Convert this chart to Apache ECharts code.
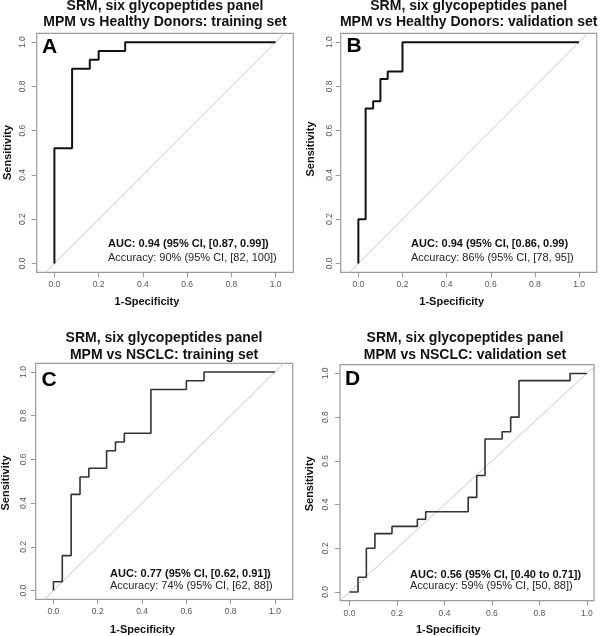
<!DOCTYPE html>
<html><head><meta charset="utf-8">
<script src="https://cdn.jsdelivr.net/npm/echarts@6/dist/echarts.min.js"></script>
<style>html,body{margin:0;padding:0;background:#fff}#c{width:600px;height:636px}</style>
</head><body><div id="c"></div>
<script>
// ---- data (1-specificity, sensitivity) ----
const fprA = [0, 0, 0.08, 0.08, 0.16, 0.16, 0.20, 0.20, 0.32, 0.32, 1];
const tprA = [0, 0.52, 0.52, 0.88, 0.88, 0.92, 0.92, 0.96, 0.96, 1, 1];
const fprB = [0, 0, 0.033, 0.033, 0.067, 0.067, 0.1, 0.1, 0.133, 0.133, 0.2, 0.2, 1];
const tprB = [0, 0.2, 0.2, 0.7, 0.7, 0.733, 0.733, 0.833, 0.833, 0.867, 0.867, 1, 1];
const fprC = [0, 0, 0.04, 0.04, 0.08, 0.08, 0.12, 0.12, 0.16, 0.16, 0.24, 0.24, 0.28, 0.28, 0.32, 0.32, 0.44, 0.44, 0.6, 0.6, 0.68, 0.68, 1];
const tprC = [0, 0.04, 0.04, 0.16, 0.16, 0.44, 0.44, 0.52, 0.52, 0.56, 0.56, 0.64, 0.64, 0.68, 0.68, 0.72, 0.72, 0.92, 0.92, 0.96, 0.96, 1, 1];
const fprD = [0, 0.036, 0.036, 0.071, 0.071, 0.107, 0.107, 0.179, 0.179, 0.286, 0.286, 0.321, 0.321, 0.5, 0.5, 0.536, 0.536, 0.571, 0.571, 0.643, 0.643, 0.679, 0.679, 0.714, 0.714, 0.929, 0.929, 1];
const tprD = [0, 0, 0.067, 0.067, 0.2, 0.2, 0.267, 0.267, 0.3, 0.3, 0.333, 0.333, 0.367, 0.367, 0.433, 0.433, 0.533, 0.533, 0.7, 0.7, 0.733, 0.733, 0.8, 0.8, 0.967, 0.967, 1, 1];
const tickValues = [0, 0.2, 0.4, 0.6, 0.8, 1.0];
const letters = ['A', 'B', 'C', 'D'];
const titleLine1 = ['SRM, six glycopeptides panel', 'SRM, six glycopeptides panel', 'SRM, six glycopeptides panel', 'SRM, six glycopeptides panel'];
const titleLine2 = ['MPM vs Healthy Donors: training set', 'MPM vs Healthy Donors: validation set', 'MPM vs NSCLC: training set', 'MPM vs NSCLC: validation set'];
const aucText = ['AUC: 0.94 (95% CI, [0.87, 0.99])', 'AUC: 0.94 (95% CI, [0.86, 0.99)', 'AUC: 0.77 (95% CI, [0.62, 0.91])', 'AUC: 0.56 (95% CI, [0.40 to 0.71])'];
const accText = ['Accuracy: 90% (95% CI, [82, 100])', 'Accuracy: 86% (95% CI, [78, 95])', 'Accuracy: 74% (95% CI, [62, 88])', 'Accuracy: 59% (95% CI, [50, 88])'];
const xName = '1-Specificity';
const yName = 'Sensitivity';

const fprs = [fprA, fprB, fprC, fprD];
const tprs = [tprA, tprB, tprC, tprD];

// ---- layout ----
const FONT = '"Liberation Sans", Arial, sans-serif';
const L = [
  {left: 36.7, top: 33.3, width: 256.6, height: 239, xmin: -0.08, xmax: 1.08, ymin: -0.04, ymax: 1.04,
   t1: 6.5, t2: 22.5, tx: 165, lx: 42, ly: 47, ax: 108, ay1: 244, ay2: 258, xnx: 147, xny: 302, ynx: 8, yny: 152.5, lw: 2, lc: '#111', ym: 10},
  {left: 340.7, top: 33.3, width: 256, height: 239, xmin: -0.08, xmax: 1.08, ymin: -0.04, ymax: 1.04,
   t1: 6.5, t2: 22.5, tx: 468.7, lx: 346.5, ly: 46.5, ax: 411, ay1: 244.3, ay2: 258.3, xnx: 451.7, xny: 302, ynx: 311.3, yny: 149, lw: 2, lc: '#111', ym: 7},
  {left: 35.7, top: 363.3, width: 257, height: 236, xmin: -0.08, xmax: 1.08, ymin: -0.04, ymax: 1.04,
   t1: 338, t2: 355.5, tx: 164, lx: 41.5, ly: 380, ax: 110, ay1: 574, ay2: 586, xnx: 142.5, xny: 629.7, ynx: 6, yny: 483, lw: 1.6, lc: '#333', ym: 8},
  {left: 340, top: 364.7, width: 254, height: 236, xmin: -0.04, xmax: 1.03, ymin: -0.04, ymax: 1.04,
   t1: 338.5, t2: 355, tx: 465, lx: 345, ly: 379, ax: 410, ay1: 574.7, ay2: 586, xnx: 448.3, xny: 629.7, ynx: 310, yny: 483.8, lw: 1.6, lc: '#333', ym: 10}
];

const grids = [], xAxes = [], yAxes = [], series = [], graphics = [];
const tickFmt = v => Number(v).toFixed(1);
L.forEach((p, i) => {
  grids.push({left: p.left, top: p.top, width: p.width, height: p.height, show: true,
    borderColor: '#9a9a9a', borderWidth: 1.2, backgroundColor: 'transparent', containLabel: false});
  const axisCommon = {
    type: 'value', gridIndex: i,
    axisLine: {show: false, onZero: false}, splitLine: {show: false},
    axisTick: {show: true, length: 5, customValues: tickValues, lineStyle: {color: '#9a9a9a', width: 1}},
  };
  xAxes.push(Object.assign({}, axisCommon, {min: p.xmin, max: p.xmax, position: 'bottom',
    axisLabel: {customValues: tickValues, formatter: tickFmt, margin: 8, fontSize: 8.5, color: '#555', fontFamily: FONT}}));
  yAxes.push(Object.assign({}, axisCommon, {min: p.ymin, max: p.ymax, position: 'left',
    axisLabel: {customValues: tickValues, formatter: tickFmt, margin: p.ym, rotate: 90, fontSize: 8.5, color: '#555', fontFamily: FONT}}));
  // diagonal reference (y = x), clipped to the plot box
  series.push({type: 'line', xAxisIndex: i, yAxisIndex: i, data: [[p.xmin - 1, p.xmin - 1], [p.xmax + 1, p.xmax + 1]],
    showSymbol: false, clip: true, silent: true, lineStyle: {color: '#c8c8c8', width: 1}, z: 1});
  series.push({type: 'line', xAxisIndex: i, yAxisIndex: i,
    data: fprs[i].map((x, k) => [x, tprs[i][k]]),
    showSymbol: false, clip: true, lineStyle: {color: p.lc, width: p.lw}, z: 2});

  const txt = (x, y, text, o) => graphics.push({type: 'text', x: x, y: y,
    style: Object.assign({text: text, fontFamily: FONT, fill: '#111', verticalAlign: 'middle'}, o)});
  txt(p.tx, p.t1, titleLine1[i], {fontSize: 14, fontWeight: 'bold', align: 'center'});
  txt(p.tx, p.t2, titleLine2[i], {fontSize: 14, fontWeight: 'bold', align: 'center'});
  txt(p.lx, p.ly, letters[i], {fontSize: 21, fontWeight: 'bold', align: 'left', fill: '#000'});
  txt(p.ax, p.ay1, aucText[i], {fontSize: 11, fontWeight: 'bold', align: 'left'});
  txt(p.ax, p.ay2, accText[i], {fontSize: 11, align: 'left', fill: '#222'});
  txt(p.xnx, p.xny, xName, {fontSize: 11, fontWeight: 'bold', align: 'center'});
  graphics.push({type: 'text', x: p.ynx, y: p.yny, rotation: Math.PI / 2,
    style: {text: yName, fontFamily: FONT, fontSize: 11, fontWeight: 'bold', fill: '#111', align: 'center', verticalAlign: 'middle'}});
});

const chart = echarts.init(document.getElementById('c'), null, {renderer: 'canvas'});
chart.setOption({
  animation: false,
  backgroundColor: '#fff',
  grid: grids, xAxis: xAxes, yAxis: yAxes, series: series,
  graphic: {elements: graphics}
});
</script></body></html>
